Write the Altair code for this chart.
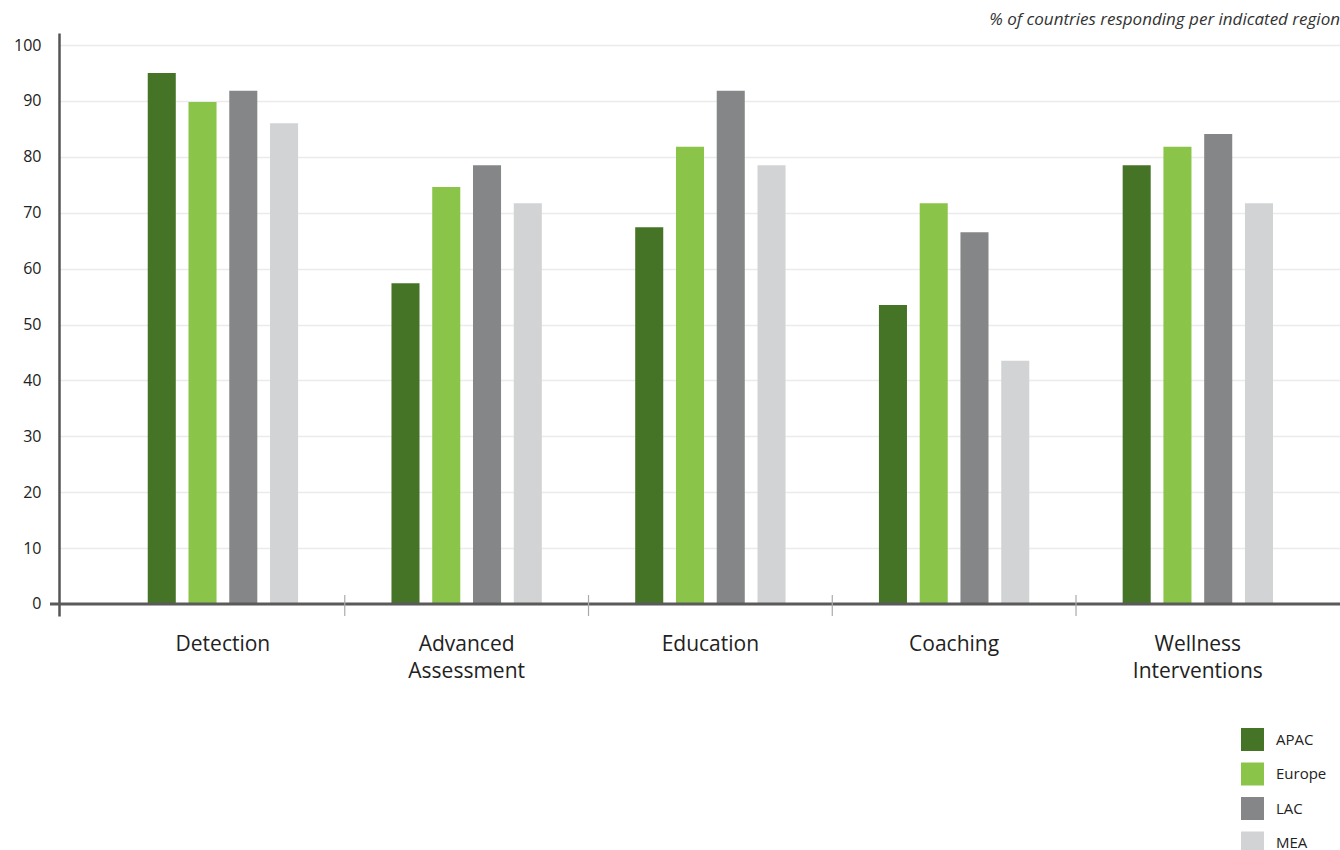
import altair as alt
import pandas as pd

categories = ["Detection", "Advanced Assessment", "Education", "Coaching", "Wellness Interventions"]
regions = ["APAC", "Europe", "LAC", "MEA"]
apac = [95.0, 57.4, 67.4, 53.5, 78.5]
europe = [89.8, 74.6, 81.8, 71.7, 81.8]
lac = [91.8, 78.5, 91.8, 66.5, 84.1]
mea = [86.0, 71.7, 78.5, 43.5, 71.7]
colors = ["#467427", "#8AC449", "#858688", "#D2D3D5"]
y_ticks = list(range(0, 101, 10))

rows = []
for i, c in enumerate(categories):
    for r, vals in zip(regions, [apac, europe, lac, mea]):
        rows.append({"category": c, "region": r, "value": vals[i]})
df = pd.DataFrame(rows)

W, H = 1281, 583
FONT = "Open Sans"

x_scale = alt.Scale(domain=categories, paddingInner=0.331, paddingOuter=0.2934, align=0.576)
y_scale = alt.Scale(domain=[-2.15, 102.15], nice=False, zero=False)

bars = alt.Chart(df).mark_bar().encode(
    x=alt.X("category:N", scale=x_scale, sort=categories,
            axis=alt.Axis(title=None, domain=False, ticks=False, labelAngle=0,
                          labelFontSize=21, labelColor="#222", labelFont=FONT,
                          labelPadding=17, labelLineHeight=27,
                          labelExpr="split(datum.label, ' ')")),
    xOffset=alt.XOffset("region:N", sort=regions,
                        scale=alt.Scale(paddingInner=0.312, paddingOuter=0.156)),
    y=alt.Y("value:Q", scale=y_scale,
            axis=alt.Axis(title=None, values=y_ticks, grid=True, gridColor="#ebebeb",
                          gridWidth=1.5, ticks=False, domainColor="#555",
                          domainWidth=2.5, labelFontSize=16, labelColor="#222",
                          labelFont=FONT, labelPadding=18)),
    color=alt.Color("region:N", sort=regions,
                    scale=alt.Scale(domain=regions, range=colors),
                    legend=alt.Legend(title=None, orient="none", legendX=1182, legendY=695,
                                      symbolType="square", symbolSize=529,
                                      symbolStrokeWidth=0, labelFontSize=15,
                                      labelFont=FONT, labelColor="#222",
                                      rowPadding=11.5, labelOffset=12)),
)

zero_df = pd.DataFrame({"v": [0]})
zero_line = alt.Chart(zero_df).mark_rule(color="#5a5a5a", strokeWidth=3).encode(
    y=alt.Y("v:Q", scale=y_scale), x=alt.value(-9), x2=alt.value(W)
)

sep_scale = alt.Scale(domain=categories, paddingInner=0, paddingOuter=0.1277, align=0.675)
sep_df = pd.DataFrame({"category": categories[1:], "lo": [-2.15] * 4, "hi": [1.6] * 4})
seps = alt.Chart(sep_df).mark_rule(color="#aaaaaa", strokeWidth=1.2).encode(
    x=alt.X("category:N", bandPosition=0, scale=sep_scale, sort=categories, axis=None),
    y=alt.Y("lo:Q", scale=y_scale),
    y2="hi:Q",
)

chart = alt.layer(bars, zero_line, seps).resolve_scale(x="independent").properties(
    width=W, height=H,
    title=alt.TitleParams("% of countries responding per indicated region",
                          anchor="end", frame="group", fontStyle="italic",
                          fontWeight="normal", fontSize=17, color="#333",
                          font=FONT, offset=4),
    autosize=alt.AutoSizeParams(type="none"),
    padding={"left": 59, "top": 33, "right": 0, "bottom": 250},
).configure_view(stroke=None)

chart.save("out.html", embed_options={"renderer": "svg", "actions": False})
